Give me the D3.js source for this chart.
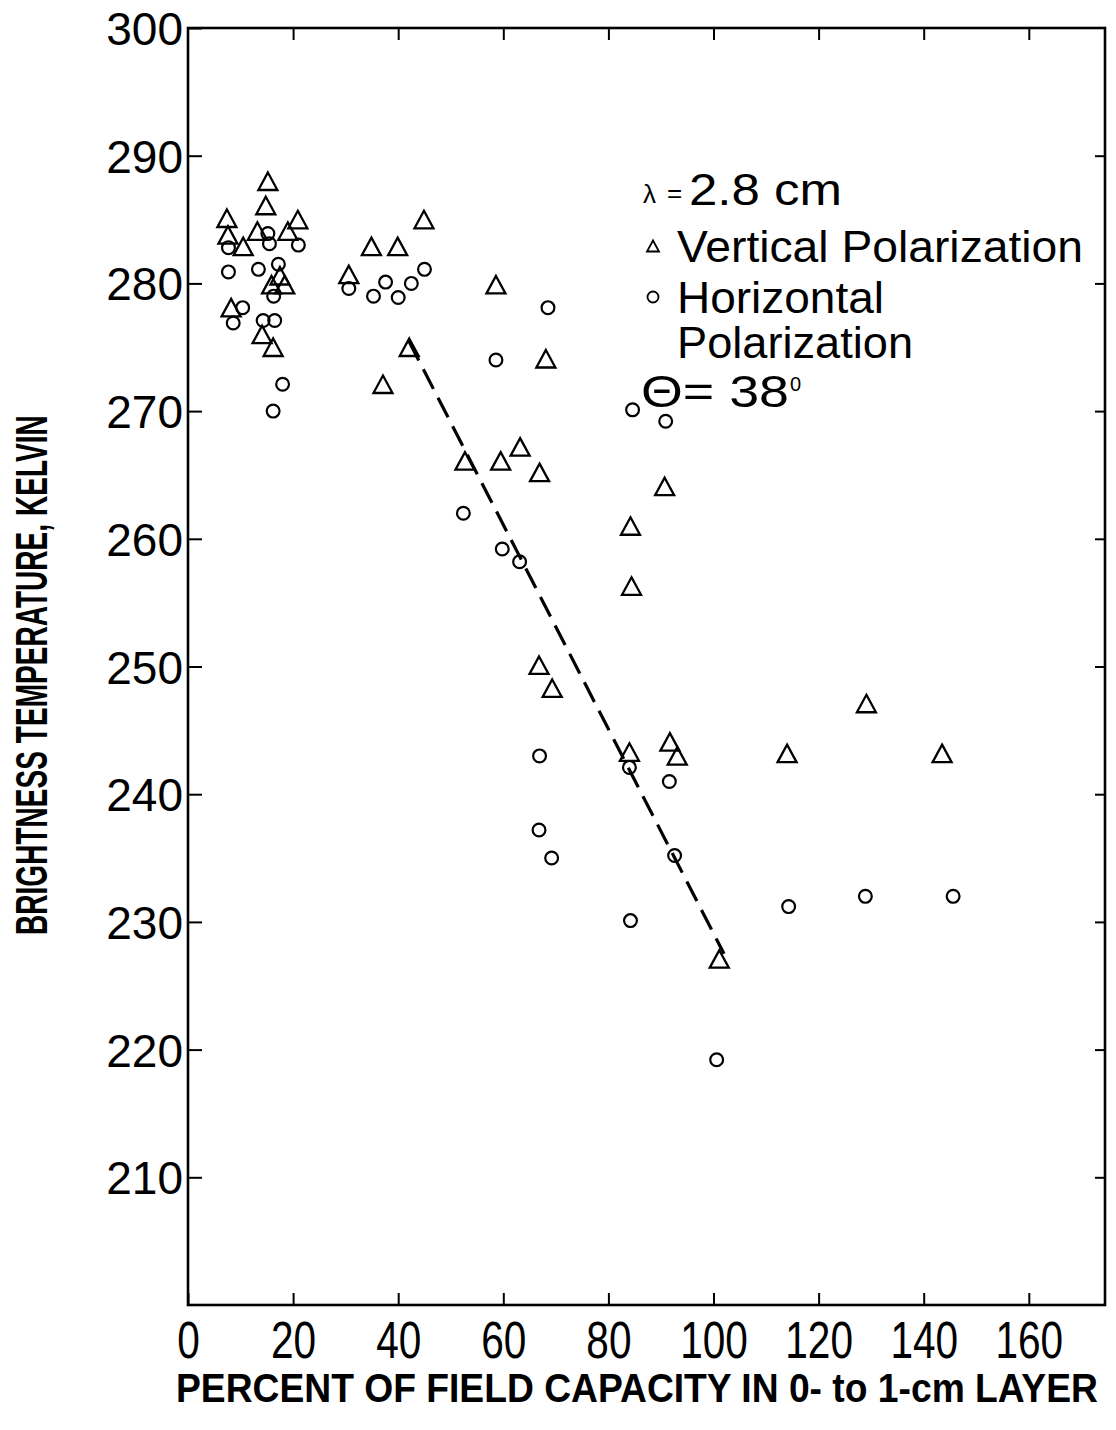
<!DOCTYPE html>
<html>
<head>
<meta charset="utf-8">
<script src="https://cdn.jsdelivr.net/npm/d3@7"></script>
<style>
  html, body { margin: 0; padding: 0; background: #fff; }
  svg { display: block; }
</style>
</head>
<body>
<div id="chart"></div>
<script>
// ---- data ----
const xTicks = [0, 20, 40, 60, 80, 100, 120, 140, 160];
const yTicks = [210, 220, 230, 240, 250, 260, 270, 280, 290, 300];

// Vertical polarization (triangles)
const vertX = [7.4, 7.6, 10.5, 15.2, 14.8, 13.2, 19.0, 20.9, 17.5, 15.9, 18.4, 8.2, 14.1, 16.2,
               30.6, 34.9, 39.9, 44.9, 58.6, 42.1, 37.1, 68.1, 52.7, 59.5, 63.2, 66.9, 90.7,
               84.2, 84.4, 66.8, 69.3, 84.0, 91.7, 93.1, 101.1, 114.0, 129.1, 143.5];
const vertY = [285.1, 283.8, 282.9, 288.0, 286.1, 284.1, 284.1, 285.0, 280.6, 279.9, 279.9, 278.1, 276.0, 275.0,
               280.7, 282.9, 282.9, 285.0, 279.9, 275.0, 272.1, 274.1, 266.1, 266.1, 267.2, 265.2, 264.1,
               261.0, 256.3, 250.1, 248.3, 243.3, 244.1, 243.0, 227.1, 243.2, 247.1, 243.2];

// Horizontal polarization (circles)
const horX = [15.2, 7.7, 15.5, 21.0, 7.7, 13.4, 17.2, 16.3, 10.4, 8.6, 14.3, 16.5, 18.0, 16.2,
              30.6, 35.3, 37.6, 40.0, 42.5, 45.0, 68.5, 58.6, 84.6, 90.9, 52.4, 59.8, 63.1,
              66.9, 84.0, 91.6, 66.8, 69.2, 92.6, 84.2, 100.6, 114.3, 128.9, 145.6];
const horY = [283.9, 282.8, 283.1, 283.0, 280.9, 281.1, 281.5, 279.0, 278.1, 276.9, 277.1, 277.1, 272.1, 270.0,
              279.6, 279.0, 280.1, 278.9, 280.0, 281.1, 278.1, 274.0, 270.1, 269.2, 262.0, 259.2, 258.2,
              243.0, 242.1, 241.0, 237.2, 235.0, 235.2, 230.1, 219.2, 231.2, 232.0, 232.0];

// Dashed fit line endpoints
const fitX = [42, 102];
const fitY = [275.5, 227.5];

const xTitle = "PERCENT OF FIELD CAPACITY IN 0- to 1-cm LAYER";
const yTitle = "BRIGHTNESS TEMPERATURE, KELVIN";

// ---- layout ----
const W = 1116, H = 1430;
const L = 188, R = 1105, T = 28, B = 1305;
const FONT = "'Liberation Sans', Arial, Helvetica, sans-serif";

const svg = d3.select("#chart").append("svg").attr("width", W).attr("height", H);

const x = d3.scaleLinear().domain([0, 174.5]).range([L, R]);
const y = d3.scaleLinear().domain([200, 300]).range([B, T]);

const ink = "#000";
const frameW = 2.6;

// Axes
const gx = svg.append("g").attr("transform", `translate(0,${B})`)
  .call(d3.axisBottom(x).tickValues(xTicks).tickSize(-12).tickPadding(0).tickFormat(d3.format("d")));
gx.select(".domain").remove();
gx.selectAll(".tick line").attr("stroke", ink).attr("stroke-width", 2);
gx.selectAll(".tick text")
  .attr("y", 53).attr("dy", 0)
  .attr("fill", ink)
  .style("font-family", FONT).style("font-size", "52px")
  .attr("transform", "scale(0.78,1)");

const gxTop = svg.append("g").attr("transform", `translate(0,${T})`)
  .call(d3.axisTop(x).tickValues(xTicks.filter(d => d > 0)).tickSize(-12).tickFormat(""));
gxTop.select(".domain").remove();
gxTop.selectAll(".tick line").attr("stroke", ink).attr("stroke-width", 2);

const gy = svg.append("g").attr("transform", `translate(${L},0)`)
  .call(d3.axisLeft(y).tickValues(yTicks).tickSize(-14).tickPadding(0).tickFormat(d3.format("d")));
gy.select(".domain").remove();
gy.selectAll(".tick line").attr("stroke", ink).attr("stroke-width", 2);
gy.selectAll(".tick text")
  .attr("x", -5).attr("dy", "0.36em")
  .attr("fill", ink)
  .style("font-family", FONT).style("font-size", "46px");

const gyR = svg.append("g").attr("transform", `translate(${R},0)`)
  .call(d3.axisRight(y).tickValues(yTicks.filter(d => d < 300)).tickSize(-10).tickFormat(""));
gyR.select(".domain").remove();
gyR.selectAll(".tick line").attr("stroke", ink).attr("stroke-width", 2);

// Frame
svg.append("rect")
  .attr("x", L).attr("y", T).attr("width", R - L).attr("height", B - T)
  .attr("fill", "none").attr("stroke", ink).attr("stroke-width", frameW);

// Dashed fit line
svg.append("path")
  .datum(fitX.map((d, i) => [d, fitY[i]]))
  .attr("d", d3.line().x(d => x(d[0])).y(d => y(d[1])))
  .attr("fill", "none").attr("stroke", ink).attr("stroke-width", 3.2)
  .attr("stroke-dasharray", "22,10");

// Markers
const triPath = (s) => `M0,${-0.92*s} L${s},${0.92*s} L${-s},${0.92*s} Z`;
const vert = vertX.map((d, i) => ({ x: d, y: vertY[i] }));
const hor = horX.map((d, i) => ({ x: d, y: horY[i] }));

svg.append("g").selectAll("path").data(vert).join("path")
  .attr("d", triPath(9.5))
  .attr("transform", d => `translate(${x(d.x)},${y(d.y)})`)
  .attr("fill", "none").attr("stroke", ink).attr("stroke-width", 2.3)
  .attr("stroke-linejoin", "miter");

svg.append("g").selectAll("circle").data(hor).join("circle")
  .attr("cx", d => x(d.x)).attr("cy", d => y(d.y)).attr("r", 6.4)
  .attr("fill", "none").attr("stroke", ink).attr("stroke-width", 2.2);

// Legend
const lg = svg.append("g").style("font-family", FONT).attr("fill", ink);
lg.append("text").attr("x", 643).attr("y", 203).style("font-size", "26px").text("λ");
lg.append("text").attr("x", 667).attr("y", 202).style("font-size", "26px").text("=");
lg.append("text").attr("x", 689).attr("y", 205).style("font-size", "44px")
  .attr("textLength", 153).attr("lengthAdjust", "spacingAndGlyphs").text("2.8 cm");

lg.append("path").attr("d", triPath(6)).attr("transform", "translate(653,246)")
  .attr("fill", "none").attr("stroke", ink).attr("stroke-width", 1.8);
lg.append("text").attr("x", 677).attr("y", 262).style("font-size", "44px")
  .attr("textLength", 406).attr("lengthAdjust", "spacingAndGlyphs").text("Vertical Polarization");

lg.append("circle").attr("cx", 653).attr("cy", 297).attr("r", 5.5)
  .attr("fill", "none").attr("stroke", ink).attr("stroke-width", 1.8);
lg.append("text").attr("x", 677).attr("y", 313).style("font-size", "44px")
  .attr("textLength", 207).attr("lengthAdjust", "spacingAndGlyphs").text("Horizontal");
lg.append("text").attr("x", 677).attr("y", 358).style("font-size", "44px")
  .attr("textLength", 236).attr("lengthAdjust", "spacingAndGlyphs").text("Polarization");

lg.append("text").attr("x", 641).attr("y", 407).style("font-size", "44px")
  .attr("textLength", 148).attr("lengthAdjust", "spacingAndGlyphs").text("Θ= 38");
lg.append("text").attr("x", 790).attr("y", 391).style("font-size", "20px").text("0");

// Axis titles (condensed by horizontal scaling to the measured width)
function fitText(sel, target) {
  const w = sel.node().getComputedTextLength();
  return target / w;
}
const xt = svg.append("text")
  .style("font-family", FONT).style("font-size", "41px").style("font-weight", "bold")
  .attr("fill", ink).text(xTitle);
const sx = fitText(xt, 922);
xt.attr("transform", `translate(176,1402) scale(${sx},1)`);

const yt = svg.append("text")
  .style("font-family", FONT).style("font-size", "44px").style("font-weight", "bold")
  .attr("fill", ink).text(yTitle);
const sy = fitText(yt, 520);
yt.attr("transform", `translate(47,935) rotate(-90) scale(${sy},1)`);
</script>
</body>
</html>
